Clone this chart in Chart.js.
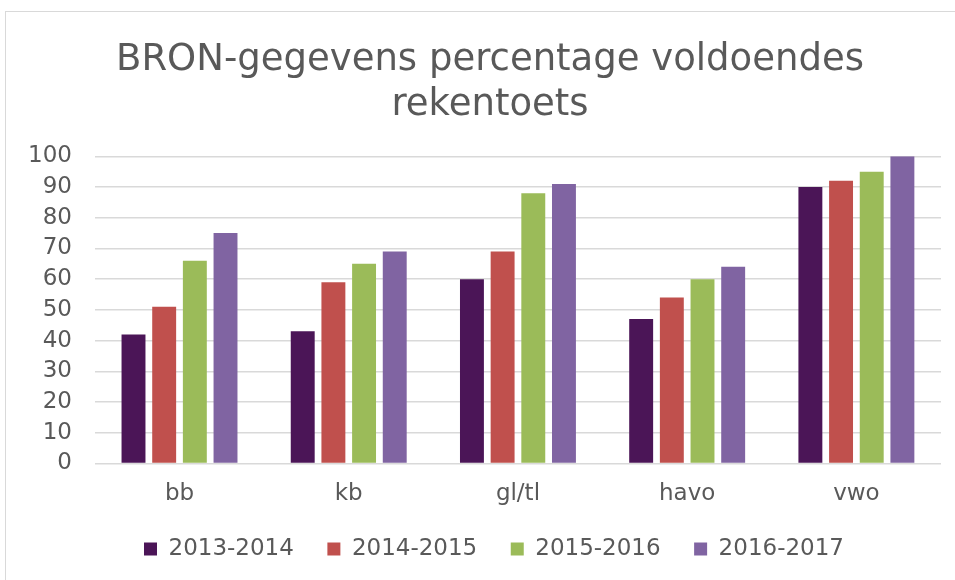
<!DOCTYPE html>
<html>
<head>
<meta charset="utf-8">
<script src="https://cdn.jsdelivr.net/npm/chart.js@4/dist/chart.umd.min.js"></script>
<style>
  html, body { margin: 0; padding: 0; background: #ffffff; overflow: hidden; }
  #frame { position: absolute; left: 5px; top: 11px; width: 1000px; height: 700px; border: 1px solid #d9d9d9; box-sizing: border-box; }
  #wrap { position: absolute; left: 0; top: 0; width: 955px; height: 580px; }
</style>
</head>
<body>
<div id="frame"></div>
<div id="wrap"><canvas id="c" width="955" height="580"></canvas></div>
<script>
const titleLines = ["BRON-gegevens percentage voldoendes", "rekentoets"];
const categories = ["bb", "kb", "gl/tl", "havo", "vwo"];
const seriesNames = ["2013-2014", "2014-2015", "2015-2016", "2016-2017"];
const s2013 = [42, 43, 60, 47, 90];
const s2014 = [51, 59, 69, 54, 92];
const s2015 = [66, 65, 88, 60, 95];
const s2016 = [75, 69, 91, 64, 100];
const yTicks = [0, 10, 20, 30, 40, 50, 60, 70, 80, 90, 100];
const colors = ["#4b1557", "#c0504d", "#9bbb59", "#8064a2"];

const seriesValues = [s2013, s2014, s2015, s2016];
const textColor = "#595959";
const fontFamily = "'DejaVu Sans', Verdana, sans-serif";

// Layout tweaks: fixed legend box height and offsets for legend / title boxes
const LEGEND_H = 63;
const LEGEND_DY = -13;
const LEGEND_DX = 21;
const TITLE_DX = 17;
const layoutTweak = {
  id: "layoutTweak",
  beforeLayout(chart) {
    const lg = chart.legend;
    if (lg && !lg.__patched) {
      const orig = lg.fit;
      lg.fit = function () { orig.apply(this, arguments); this.height = LEGEND_H; };
      lg.__patched = true;
    }
  },
  afterLayout(chart) {
    const lg = chart.legend;
    if (lg) { lg.top += LEGEND_DY; lg.bottom += LEGEND_DY; lg.left += LEGEND_DX; lg.right += LEGEND_DX; }
    const tb = chart.titleBlock;
    if (tb) { tb.left += TITLE_DX; tb.right += TITLE_DX; }
  }
};

new Chart(document.getElementById("c"), {
  type: "bar",
  data: {
    labels: categories,
    datasets: seriesNames.map((n, i) => ({
      label: n,
      data: seriesValues[i],
      backgroundColor: colors[i],
      borderWidth: 0,
      categoryPercentage: 0.725,
      barPercentage: 0.78
    }))
  },
  plugins: [layoutTweak],
  options: {
    responsive: false,
    animation: false,
    layout: { padding: { left: 5, right: 14, top: 0, bottom: 0 } },
    plugins: {
      tooltip: { enabled: false },
      title: {
        display: true,
        text: titleLines,
        color: textColor,
        font: { family: fontFamily, size: 37, weight: "normal", lineHeight: 1.22 },
        padding: { top: 38, bottom: 28 }
      },
      legend: {
        position: "bottom",
        labels: {
          color: textColor,
          font: { family: fontFamily, size: 23 },
          boxWidth: 13,
          boxHeight: 13,
          padding: 33.5
        }
      }
    },
    scales: {
      x: {
        grid: { display: false },
        border: { display: false },
        ticks: { color: textColor, font: { family: fontFamily, size: 23 }, padding: 9 }
      },
      y: {
        min: 0,
        max: 100,
        afterBuildTicks: (axis) => { axis.ticks = yTicks.map(v => ({ value: v })); },
        grid: { color: "#d9d9d9", lineWidth: 1.5, drawTicks: false },
        border: { display: false },
        ticks: { color: textColor, font: { family: fontFamily, size: 23 }, padding: 23, autoSkip: false }
      }
    }
  }
});
</script>
</body>
</html>
